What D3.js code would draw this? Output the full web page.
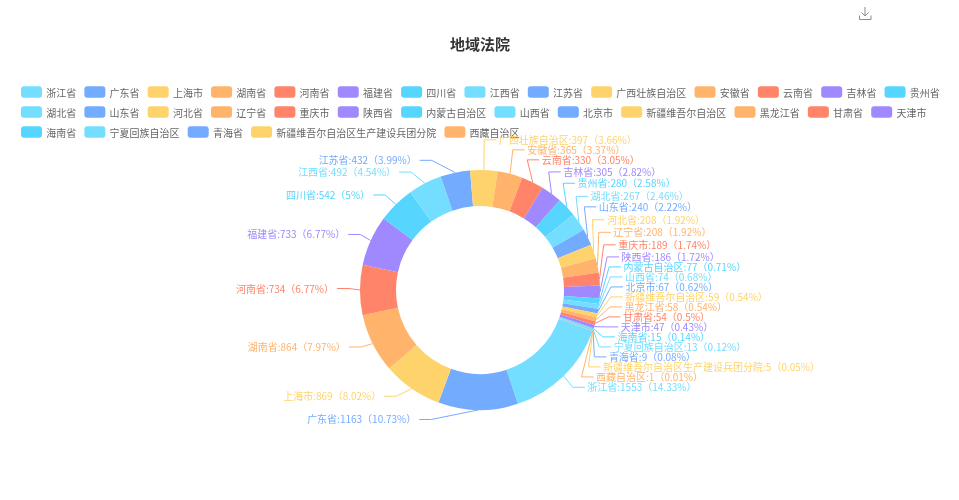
<!DOCTYPE html>
<html>
<head>
<meta charset="utf-8">
<script src="https://cdn.jsdelivr.net/npm/d3@7/dist/d3.min.js"></script>
<style>
html,body{margin:0;padding:0;background:#fff;}
svg{display:block;font-family:"Noto Sans CJK SC","Noto Sans",sans-serif;filter:blur(0.35px);}
</style>
</head>
<body>
<svg id="chart" width="959" height="500"></svg>
<script>
const titleText = "地域法院";
const provinces = ["浙江省","广东省","上海市","湖南省","河南省","福建省","四川省","江西省","江苏省","广西壮族自治区","安徽省","云南省","吉林省","贵州省","湖北省","山东省","河北省","辽宁省","重庆市","陕西省","内蒙古自治区","山西省","北京市","新疆维吾尔自治区","黑龙江省","甘肃省","天津市","海南省","宁夏回族自治区","青海省","新疆维吾尔自治区生产建设兵团分院","西藏自治区"];
const counts = [1553,1163,869,864,734,733,542,492,432,397,365,330,305,280,267,240,208,208,189,186,77,74,67,59,58,54,47,15,13,9,5,1];
const palette = ["#73DEFF","#73ABFF","#FFD36B","#FFB36B","#FF8469","#A088FF","#56D5FF"];

const W = 959, H = 500;
const cx = 480, cy = 290, rOuter = 120, rInner = 84;
const lineLen = 11, lineLen2 = 12, labelShift = 1.5, labelH = 10, labelFont = 10;
const startDeg = 110;

const svg = d3.select("#chart");
const color = d3.scaleOrdinal().domain(provinces).range(palette);

// title
svg.append("text").attr("x", cx).attr("y", 50).attr("text-anchor", "middle")
  .attr("font-size", 15).attr("font-weight", 700).attr("fill", "#333").text(titleText);

// download icon
svg.append("path").attr("transform", "translate(859,7)")
  .attr("d", "M6 0V9M2.5 5.5L6 9L9.500 5.5M0.500 8.500V12.500H12V8.500")
  .attr("fill", "none").attr("stroke", "#8c8c8c").attr("stroke-width", 1);

// legend
const legend = svg.append("g");
let lx = 21, ly = 92;
provinces.forEach(name => {
  const g = legend.append("g");
  const t = g.append("text").attr("font-size", 10).attr("fill", "#666").attr("dominant-baseline", "central").text(name);
  const tw = t.node().getComputedTextLength();
  const w = 21 + 4.2 + tw;
  if (lx + w > 942) { lx = 21; ly += 20; }
  g.append("rect").attr("x", lx).attr("y", ly - 5.8).attr("width", 21).attr("height", 11.6).attr("rx", 3).attr("fill", color(name));
  t.attr("x", lx + 25.2).attr("y", ly);
  lx += w + 8.15;
});

// pie
const total = d3.sum(counts);
const data = provinces.map((name, i) => ({name, value: counts[i]}));
const pie = d3.pie().value(d => d.value).sort(null)
  .startAngle(startDeg * Math.PI / 180).endAngle((startDeg + 360) * Math.PI / 180);
const arcs = pie(data);
const arc = d3.arc().innerRadius(rInner).outerRadius(rOuter);
svg.append("g").attr("transform", `translate(${cx},${cy})`)
  .selectAll("path").data(arcs).join("path")
  .attr("d", arc).attr("fill", d => color(d.data.name));

// percentages that sum to 100 (largest remainder, two decimals)
const exact = counts.map(v => v / total * 10000);
const seats = exact.map(Math.floor);
const rem = exact.map((v, i) => v - seats[i]);
let left = 10000 - d3.sum(seats);
d3.range(counts.length).sort((a, b) => rem[b] - rem[a]).slice(0, left).forEach(i => seats[i]++);
const pctByName = new Map(provinces.map((n, i) => [n, seats[i] / 100]));

// label layout: elbow lines, with overlapping labels pushed apart on each side
const items = arcs.map(a => {
  const mid = (a.startAngle + a.endAngle) / 2;
  const dx = Math.sin(mid), dy = -Math.cos(mid);
  const dir = dx < 0 ? -1 : 1;
  return {
    name: a.data.name, value: a.data.value, dx, dy, dir,
    x1: cx + dx * rOuter, y1: cy + dy * rOuter,
    x: cx + dx * (rOuter + lineLen) + dir * lineLen2,
    y: cy + dy * (rOuter + lineLen) - labelShift,
    height: labelH
  };
});

function adjustSide(list, dir) {
  list.sort((a, b) => a.y - b.y);
  const len = list.length;
  function shiftUp(end, delta) {
    for (let j = end; j >= 0; j--) {
      if (list[j].y - delta < 0) break;
      list[j].y -= delta;
      if (j > 0 && list[j].y > list[j - 1].y + list[j - 1].height) break;
    }
  }
  function shiftDown(start, end, delta) {
    for (let j = start; j < end; j++) {
      if (list[j].y + delta > H) break;
      list[j].y += delta;
      if (j > start && j + 1 < end && list[j + 1].y > list[j].y + list[j].height) {
        shiftUp(j, delta / 2);
        return;
      }
    }
    shiftUp(end - 1, delta / 2);
  }
  function changeX(sub, isDown) {
    let last = isDown ? Number.MAX_VALUE : 0;
    sub.forEach(it => {
      const dY = Math.abs(it.y - cy);
      const R = rOuter + lineLen + lineLen2;
      let dX = dY < rOuter + lineLen + 3 ? Math.sqrt(R * R - dY * dY) : Math.abs(it.x - cx);
      if (isDown && dX >= last) dX = last - 2;
      if (!isDown && dX <= last) dX = last + 2;
      it.x = cx + dX * dir;
      last = dX;
    });
  }
  let lastY = 0;
  for (let i = 0; i < len; i++) {
    const delta = list[i].y - lastY;
    if (delta < 0) shiftDown(i, len, -delta);
    lastY = list[i].y + list[i].height;
  }
  changeX(list.filter(d => d.y < cy), false);
  changeX(list.filter(d => d.y >= cy), true);
}
adjustSide(items.filter(d => d.dir > 0), 1);
adjustSide(items.filter(d => d.dir < 0), -1);

const line = d3.line();
const labels = svg.append("g");
labels.selectAll("path").data(items).join("path")
  .attr("d", d => line([[d.x1, d.y1], [d.x - d.dir * lineLen2, d.y], [d.x, d.y]]))
  .attr("fill", "none").attr("stroke", d => color(d.name)).attr("stroke-width", 1);
labels.selectAll("text").data(items).join("text")
  .attr("x", d => d.x + (d.dir > 0 ? 2.5 : -3)).attr("y", d => d.y - 0.5)
  .attr("text-anchor", d => d.dir > 0 ? "start" : "end")
  .attr("dominant-baseline", "central")
  .attr("font-size", labelFont).attr("fill", d => color(d.name))
  .text(d => `${d.name}:${d.value}（${pctByName.get(d.name)}%）`);
</script>
</body>
</html>
